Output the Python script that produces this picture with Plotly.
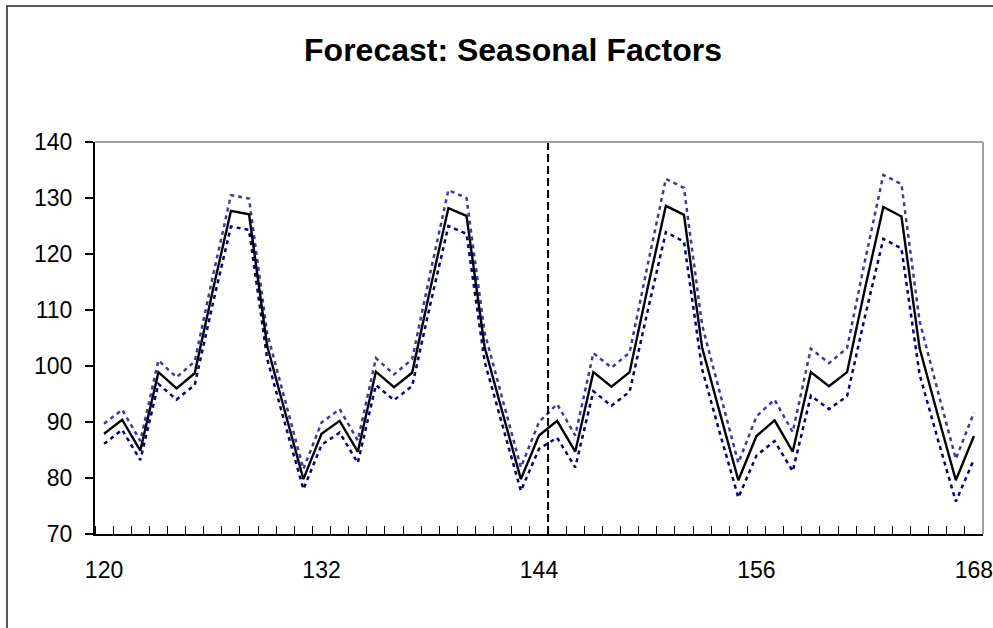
import plotly.graph_objects as go

periods = list(range(120, 169))

seasonal = [87.9, 90.4, 84.9, 98.9, 96.0, 98.7, 113.5, 127.7, 127.1, 103.6, 91.6, 79.8,
            87.9, 90.2, 84.7, 99.0, 96.2, 98.8, 113.8, 128.2, 126.8, 103.4, 91.5, 79.8,
            87.6, 90.2, 84.7, 98.9, 96.3, 98.9, 114.0, 128.6, 127.0, 103.3, 91.4, 79.6,
            87.5, 90.3, 84.7, 98.9, 96.4, 98.9, 114.0, 128.4, 126.7, 103.2, 91.3, 79.6,
            87.5]

upper = [89.7, 92.2, 86.6, 101.0, 98.0, 100.8, 116.0, 130.5, 129.9, 105.9, 93.7, 81.6,
         89.9, 92.3, 86.7, 101.4, 98.5, 101.2, 116.6, 131.4, 130.0, 106.0, 93.9, 81.9,
         90.0, 93.2, 87.6, 102.3, 99.7, 102.4, 118.1, 133.4, 131.8, 107.3, 95.0, 82.7,
         91.0, 94.0, 88.2, 103.1, 100.5, 103.2, 119.0, 134.1, 132.5, 108.0, 95.6, 83.4,
         91.7]

lower = [86.1, 88.6, 83.2, 96.8, 94.0, 96.6, 111.1, 124.9, 124.3, 101.3, 89.5, 78.0,
         85.9, 88.1, 82.7, 96.6, 93.9, 96.4, 111.0, 125.0, 123.6, 100.8, 89.2, 77.7,
         85.2, 87.2, 81.9, 95.5, 92.9, 95.4, 109.9, 123.9, 122.2, 99.4, 87.8, 76.5,
         84.0, 86.6, 81.2, 94.7, 92.3, 94.6, 109.0, 122.7, 121.0, 98.5, 87.0, 75.8,
         83.3]

x_tick_labels = [120, 132, 144, 156, 168]
y_ticks = [70, 80, 90, 100, 110, 120, 130, 140]
forecast_start = 144.5
title_text = "Forecast: Seasonal Factors"

FONT = "Liberation Sans, Arial, sans-serif"

fig = go.Figure()
fig.add_trace(go.Scatter(x=periods, y=upper, mode="lines",
                         line=dict(color="#3a3aa6", width=2.5, dash="4px,4px"),
                         showlegend=False, hoverinfo="skip"))
fig.add_trace(go.Scatter(x=periods, y=lower, mode="lines",
                         line=dict(color="#000080", width=2.5, dash="4px,4px"),
                         showlegend=False, hoverinfo="skip"))
fig.add_trace(go.Scatter(x=periods, y=seasonal, mode="lines",
                         line=dict(color="black", width=2.4),
                         showlegend=False))

# forecast start marker
fig.add_shape(type="line", xref="x", yref="y", x0=forecast_start, x1=forecast_start,
              y0=y_ticks[0], y1=y_ticks[-1], line=dict(color="black", width=2, dash="8px,4px"))
# gray top/right plot-area borders
fig.add_shape(type="line", xref="paper", yref="paper", x0=0, x1=1, y0=1, y1=1,
              line=dict(color="#a0a0a0", width=2))
fig.add_shape(type="line", xref="paper", yref="paper", x0=1, x1=1, y0=0, y1=1,
              line=dict(color="#a0a0a0", width=2))
# outer chart border (right and bottom edges lie outside the visible page)
fig.add_shape(type="rect", xref="paper", yref="paper", x0=-0.0991, x1=1.06, y0=-0.35, y1=1.347,
              line=dict(color="#222222", width=1.5), fillcolor="rgba(0,0,0,0)")

fig.update_layout(
    width=993, height=628,
    margin=dict(l=95, r=10, t=142, b=94, autoexpand=False),
    paper_bgcolor="white", plot_bgcolor="white",
    font=dict(family=FONT, color="black", size=23),
    title=dict(text="<b>" + title_text + "</b>", x=513 / 993, xref="container", xanchor="center",
               y=1 - 50 / 628, yref="container", yanchor="middle",
               font=dict(family=FONT, size=32, color="black")),
)

fig.update_xaxes(
    range=[periods[0] - 0.5, periods[-1] + 0.5],
    tickmode="array", tickvals=x_tick_labels, ticktext=[str(v) for v in x_tick_labels],
    ticks="", showgrid=False, zeroline=False, automargin=False,
    showline=True, linecolor="black", linewidth=2,
    ticklabelstandoff=14, ticklabeloverflow="allow",
    minor=dict(tickvals=[p - 0.5 for p in periods] + [periods[-1] + 0.5],
               ticks="inside", ticklen=8, tickcolor="black", tickwidth=1.3, showgrid=False),
)
fig.update_yaxes(
    range=[y_ticks[0], y_ticks[-1]],
    tickmode="array", tickvals=y_ticks,
    ticks="outside", ticklen=8, tickcolor="black", tickwidth=1.5,
    showgrid=False, zeroline=False, automargin=False,
    showline=True, linecolor="black", linewidth=2,
    ticklabelstandoff=8,
)

fig.write_html("out.html")
